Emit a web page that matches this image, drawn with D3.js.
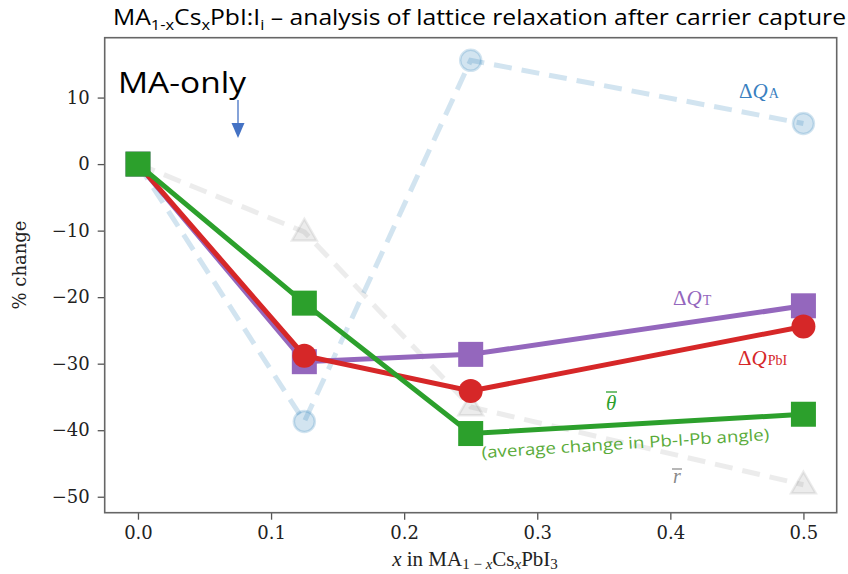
<!DOCTYPE html>
<html><head><meta charset="utf-8">
<script src="https://cdn.jsdelivr.net/npm/d3@7"></script>
<style>body{margin:0;background:#fff}svg{display:block}</style>
</head><body><svg id="c" width="848" height="574"></svg>
<script>
const xs = [0, 0.125, 0.25, 0.5];
const dQT = [0, -29.7, -28.6, -21.3];
const dQPbI = [0, -28.8, -34.1, -24.4];
const theta = [0, -20.9, -40.5, -37.6];
const dQA = [0, -38.7, 15.6, 6.1];
const rbar = [0, -10.2, -36.5, -48.2];
const xTicks = [0, 0.1, 0.2, 0.3, 0.4, 0.5];
const yTicks = [10, 0, -10, -20, -30, -40, -50];

const svg = d3.select('#c');
const L = 104.7, R = 836.7, T = 37.7, B = 512.7;
const x = d3.scaleLinear().domain([-0.025, 0.525]).range([L, R]);
const y = d3.scaleLinear().domain([-52.4, 19.0]).range([B, T]);

// axes
const fmtX = d3.format('.1f');
const gx = svg.append('g').attr('transform', `translate(0,${B})`)
  .call(d3.axisBottom(x).tickValues(xTicks).tickFormat(fmtX).tickSizeOuter(0).tickSize(7).tickPadding(7));
const gy = svg.append('g').attr('transform', `translate(${L},0)`)
  .call(d3.axisLeft(y).tickValues(yTicks).tickFormat(d => d < 0 ? '\u2212' + Math.abs(d) : d).tickSizeOuter(0).tickSize(7).tickPadding(8));
[gx, gy].forEach(g => {
  g.select('.domain').remove();
  g.selectAll('line').attr('stroke', '#555').attr('stroke-width', 1.3);
  g.selectAll('text').attr('font-family', 'DejaVu Serif').attr('font-size', 18).attr('fill', '#222');
});
svg.append('rect').attr('x', L).attr('y', T).attr('width', R - L).attr('height', B - T)
  .attr('fill', 'none').attr('stroke', '#666').attr('stroke-width', 1.6);

const line = d3.line().x((d, i) => x(xs[i])).y(d => y(d));
const pts = v => v.map((d, i) => [x(xs[i]), y(d)]);

function dashed(vals, color, op, marker) {
  const g = svg.append('g');
  g.append('path').attr('d', line(vals)).attr('fill', 'none').attr('stroke', color)
    .attr('stroke-opacity', op).attr('stroke-width', 5).attr('stroke-dasharray', '18,10');
  pts(vals).forEach(([px, py], i) => {
    if (i === 0) return;
    if (marker === 'circle') {
      g.append('circle').attr('cx', px).attr('cy', py).attr('r', 10.5)
        .attr('fill', color).attr('fill-opacity', op).attr('stroke', color).attr('stroke-opacity', op).attr('stroke-width', 2.5);
    } else {
      const s = 13;
      g.append('path').attr('d', `M${px},${py - s}L${px + s * 0.95},${py + s * 0.65}L${px - s * 0.95},${py + s * 0.65}Z`)
        .attr('fill', color).attr('fill-opacity', op).attr('stroke', color).attr('stroke-opacity', op).attr('stroke-width', 2.5);
    }
  });
}
function solid(vals, color, marker) {
  const g = svg.append('g');
  g.append('path').attr('d', line(vals)).attr('fill', 'none').attr('stroke', color).attr('stroke-width', 5);
  pts(vals).forEach(([px, py]) => {
    if (marker === 'circle') g.append('circle').attr('cx', px).attr('cy', py).attr('r', 12).attr('fill', color);
    else g.append('rect').attr('x', px - 12.5).attr('y', py - 12.5).attr('width', 25).attr('height', 25).attr('fill', color);
  });
}
dashed(rbar, '#7f7f7f', 0.15, 'tri');
dashed(dQA, '#1f77b4', 0.2, 'circle');
solid(dQT, '#9467bd', 'square');
solid(dQPbI, '#d62728', 'circle');
solid(theta, '#2ca02c', 'square');

// series labels
function qlabel(xp, yp, sub, color) {
  const t = svg.append('text').attr('x', xp).attr('y', yp).attr('font-family', 'Liberation Serif')
    .attr('font-size', 21).attr('fill', color);
  t.append('tspan').text('\u0394');
  t.append('tspan').attr('font-style', 'italic').text('Q');
  t.append('tspan').attr('font-size', 14).attr('dx', 1).text(sub);
}
qlabel(739, 98, 'A', '#3a80c0');
qlabel(673, 305, 'T', '#9467bd');
qlabel(738, 365, 'PbI', '#d62728');
svg.append('text').attr('x', 606).attr('y', 410).attr('font-family', 'Liberation Serif').attr('font-style', 'italic')
  .attr('font-size', 21).attr('fill', '#2ca02c').text('\u03B8');
svg.append('line').attr('x1', 606).attr('x2', 617).attr('y1', 392).attr('y2', 392).attr('stroke', '#2ca02c').attr('stroke-width', 1.3);
svg.append('text').attr('x', 673).attr('y', 483).attr('font-family', 'Liberation Serif').attr('font-style', 'italic')
  .attr('font-size', 20).attr('fill', '#888').text('r');
svg.append('line').attr('x1', 672).attr('x2', 682).attr('y1', 469).attr('y2', 469).attr('stroke', '#888').attr('stroke-width', 1.2);
svg.append('text').attr('transform', 'translate(482,458) rotate(-3.6)').attr('font-family', 'Open Sans')
  .attr('font-size', 16).attr('fill', '#5aab3a').attr('textLength', 288).attr('lengthAdjust', 'spacingAndGlyphs')
  .text('(average change in Pb-I-Pb angle)');

// MA-only annotation
svg.append('text').attr('x', 118).attr('y', 93).attr('font-family', 'Open Sans').attr('font-size', 29)
  .attr('fill', '#000').attr('textLength', 128).attr('lengthAdjust', 'spacingAndGlyphs').text('MA-only');
svg.append('line').attr('x1', 238).attr('x2', 238).attr('y1', 100).attr('y2', 125).attr('stroke', '#4472c4').attr('stroke-width', 1.3);
svg.append('path').attr('d', 'M231.5,123L244.5,123L238,138Z').attr('fill', '#4472c4');

// axis labels
svg.append('text').attr('transform', 'translate(26,265) rotate(-90)').attr('text-anchor', 'middle')
  .attr('font-family', 'DejaVu Serif').attr('font-size', 18).attr('fill', '#222').text('% change');
const xl = svg.append('text').attr('x', 475).attr('y', 566).attr('text-anchor', 'middle')
  .attr('font-family', 'Liberation Serif').attr('font-size', 21).attr('fill', '#222');
xl.append('tspan').attr('font-style', 'italic').text('x');
xl.append('tspan').text(' in MA');
xl.append('tspan').attr('font-size', 15).attr('dy', 3).text('1 \u2212 ');
xl.append('tspan').attr('font-size', 15).attr('font-style', 'italic').text('x');
xl.append('tspan').attr('dy', -3).text('Cs');
xl.append('tspan').attr('font-size', 15).attr('dy', 3).attr('font-style', 'italic').text('x');
xl.append('tspan').attr('dy', -3).text('PbI');
xl.append('tspan').attr('font-size', 15).attr('dy', 3).text('3');

// title
const tt = svg.append('text').attr('x', 113).attr('y', 25).attr('font-family', 'Open Sans').attr('font-size', 21)
  .attr('fill', '#000').attr('textLength', 733).attr('lengthAdjust', 'spacingAndGlyphs');
tt.append('tspan').text('MA');
tt.append('tspan').attr('font-size', 14).attr('dy', 5).text('1-x');
tt.append('tspan').attr('dy', -5).text('Cs');
tt.append('tspan').attr('font-size', 14).attr('dy', 5).text('x');
tt.append('tspan').attr('dy', -5).text('PbI:I');
tt.append('tspan').attr('font-size', 14).attr('dy', 5).text('i');
tt.append('tspan').attr('dy', -5).text(' \u2013 analysis of lattice relaxation after carrier capture');
</script></body></html>
